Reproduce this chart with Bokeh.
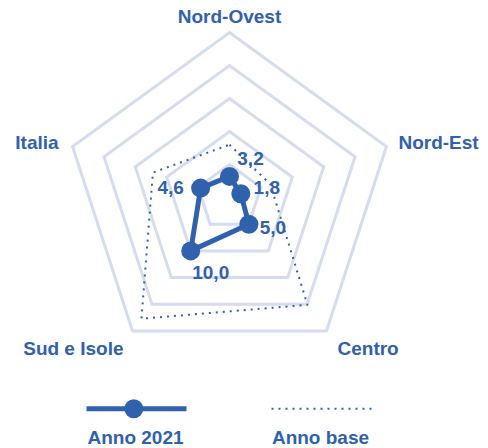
import math
from bokeh.plotting import figure
from bokeh.models import Range1d
from bokeh.core.properties import value
from bokeh.embed import file_html
from bokeh.resources import INLINE

# ---- data ----
categories = ["Nord-Ovest", "Nord-Est", "Centro", "Sud e Isole", "Italia"]
anno_2021 = [3.2, 1.8, 5.0, 10.0, 4.6]
anno_2021_labels = ["3,2", "1,8", "5,0", "10,0", "4,6"]
anno_base = [8.0, 6.5, 20.1, 22.7, 12.2]
ring_levels = [5, 10, 15, 20, 25]
legend_labels = ["Anno 2021", "Anno base"]

# ---- style ----
BLUE = "#3061ad"
GRID = "#d5dcef"
FONT = "Liberation Sans"
FSIZE = "19px"

K = 6.6            # pixels per data unit
CX, CY = 229, 197  # page position of radar centre
W, H = 488, 448

def ang(i):
    return math.radians(90 - 72 * i)

def polar(r, i):
    return r * math.cos(ang(i)), r * math.sin(ang(i))

def shift(x, y, dx, dy):
    # shift a data point by a pixel offset (dy positive = down)
    return x + dx / K, y - dy / K

def page(sx, sy):
    return (sx - CX) / K, (CY - sy) / K

p = figure(width=W, height=H, output_backend="svg", toolbar_location=None,
           x_range=Range1d((0 - CX) / K, (W - CX) / K),
           y_range=Range1d((CY - H) / K, (CY - 0) / K),
           x_axis_type=None, y_axis_type=None, min_border=0,
           background_fill_color="white", border_fill_color="white")
p.outline_line_color = None
p.grid.visible = False

n = len(categories)

# grid rings
ring_xs, ring_ys = [], []
for lv in ring_levels:
    pts = [polar(lv, i) for i in range(n)]
    ring_xs.append([q[0] for q in pts])
    ring_ys.append([q[1] for q in pts])
p.patches(ring_xs, ring_ys, fill_color=None, line_color=GRID, line_width=3,
          line_join="miter")

# anno base (dotted)
bpts = [polar(v, i) for i, v in enumerate(anno_base)]
p.patch([q[0] for q in bpts], [q[1] for q in bpts], fill_color=None,
        line_color=BLUE, line_width=2, line_dash="2 5")

# anno 2021
apts = [polar(v, i) for i, v in enumerate(anno_2021)]
ax = [q[0] for q in apts]
ay = [q[1] for q in apts]
p.patch(ax, ay, fill_color=None, line_color=BLUE, line_width=5, line_join="round")
p.scatter(ax, ay, size=19, fill_color=BLUE, line_color=None)

# value labels
val_off = [(21, -18), (26, -6), (24, 3), (20, 22), (-30, -1)]
vx, vy = [], []
for (x, y), (dx, dy) in zip(apts, val_off):
    a, b = shift(x, y, dx, dy)
    vx.append(a); vy.append(b)
p.text(vx, vy, text=anno_2021_labels, text_font=value(FONT), text_font_style="bold",
       text_font_size=FSIZE, text_color=BLUE, text_align="center",
       text_baseline="middle")

# category labels
cat_off = [(0, -16, "center"), (12, -4, "left"), (11, 18, "left"),
           (-9, 18, "right"), (-14, -4, "right")]
for i, (name, (dx, dy, al)) in enumerate(zip(categories, cat_off)):
    x, y = polar(ring_levels[-1], i)
    a, b = shift(x, y, dx, dy)
    p.text([a], [b], text=[name], text_font=value(FONT), text_font_style="bold",
           text_font_size=FSIZE, text_color=BLUE, text_align=al,
           text_baseline="middle")

# legend
l1a = page(86, 408.3); l1b = page(186, 408.3); m1 = page(133.3, 408.3)
p.line([l1a[0], l1b[0]], [l1a[1], l1b[1]], line_color=BLUE, line_width=5)
p.scatter([m1[0]], [m1[1]], size=19, fill_color=BLUE, line_color=None)
l2a = page(271, 408.3); l2b = page(374, 408.3)
p.line([l2a[0], l2b[0]], [l2a[1], l2b[1]], line_color=BLUE, line_width=2,
       line_dash="2 5")
t1 = page(135, 436.5); t2 = page(320, 436.5)
p.text([t1[0], t2[0]], [t1[1], t2[1]], text=legend_labels, text_font=value(FONT),
       text_font_style="bold", text_font_size=FSIZE, text_color=BLUE,
       text_align="center", text_baseline="middle")

open("out.html", "w").write(file_html(p, INLINE))
